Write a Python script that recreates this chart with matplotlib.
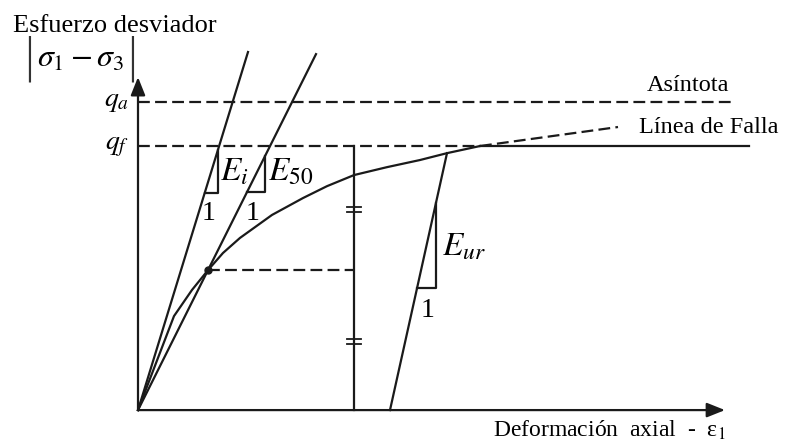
import matplotlib.pyplot as plt

plt.rcParams['font.family'] = ['Liberation Serif', 'DejaVu Serif']
plt.rcParams['mathtext.fontset'] = 'stix'
plt.rcParams['lines.scale_dashes'] = False

# Niveles de esfuerzo (normalizados con qf)
q_f = 1.0
q_a = 1.167
q_50 = 0.53

# Curva hiperbólica esfuerzo-deformación
eps_curve = [0.0, 0.36, 0.54, 0.70, 0.85, 1.02, 1.34, 1.65, 1.89, 2.16, 2.49, 2.82,
             3.09, 3.42]
q_curve = [0.0, 0.356, 0.455, 0.530, 0.595, 0.652, 0.739, 0.803, 0.848, 0.890, 0.920,
           0.947, 0.973, 1.0]

# Prolongación de la curva hacia la asíntota
eps_ext = [3.42, 4.80]
q_ext = [1.0, 1.072]

# Rectas de módulo: extremos (deformación, esfuerzo)
eps_Ei, q_Ei = [0.0, 1.10], [0.0, 1.356]
eps_E50, q_E50 = [0.0, 1.78], [0.0, 1.348]
eps_Eur, q_Eur = [2.52, 3.09], [0.0, 0.973]

# Triángulos de pendiente: (deformación inicial, deformación final)
tri_Ei = (0.667, 0.80)
tri_E50 = (1.09, 1.27)
tri_Eur = (2.79, 2.98)

# Deformación de la recta vertical y marcas de igualdad
eps_v = 2.16
q_marks = [0.26, 0.76]

eps_fail_end = 6.11
eps_asym_end = 5.96
eps_axis_end = 5.87
q_axis_end = 1.261

fig = plt.figure(figsize=(7.97, 4.46), dpi=100)
ax = fig.add_axes([0, 0, 1, 1])
ax.set_xlim(-1.38, 6.59)
ax.set_ylim(-0.136, 1.553)
ax.axis('off')

col = '#1a1a1a'
lw = 1.6
dash = (0, (8.5, 3.8))

# Ejes con flechas
arrow = dict(arrowstyle='-|>,head_length=0.55,head_width=0.22', mutation_scale=20,
             color=col, lw=lw, shrinkA=0, shrinkB=0)
ax.annotate('', xy=(0, q_axis_end), xytext=(0, 0), arrowprops=arrow)
ax.annotate('', xy=(eps_axis_end, 0), xytext=(0, 0), arrowprops=arrow)

# Asíntota y línea de falla
ax.plot([0, eps_asym_end], [q_a, q_a], color=col, lw=lw, ls=dash)
ax.plot([0, eps_curve[-1]], [q_f, q_f], color=col, lw=lw, ls=dash)
ax.plot([eps_curve[-1], eps_fail_end], [q_f, q_f], color=col, lw=lw)

# Curva y su prolongación
ax.plot(eps_curve, q_curve, color=col, lw=lw, solid_joinstyle='round')
ax.plot(eps_ext, q_ext, color=col, lw=lw, ls=dash)

# Rectas de módulo
ax.plot(eps_Ei, q_Ei, color=col, lw=lw)
ax.plot(eps_E50, q_E50, color=col, lw=lw)
ax.plot(eps_Eur, q_Eur, color=col, lw=lw)


def slope_triangle(e_line, q_line, tri):
    m = (q_line[1] - q_line[0]) / (e_line[1] - e_line[0])
    e1, e2 = tri
    y1 = q_line[0] + m * (e1 - e_line[0])
    y2 = q_line[0] + m * (e2 - e_line[0])
    ax.plot([e1, e2, e2], [y1, y1, y2], color=col, lw=lw)


slope_triangle(eps_Ei, q_Ei, tri_Ei)
slope_triangle(eps_E50, q_E50, tri_E50)
slope_triangle(eps_Eur, q_Eur, tri_Eur)

# Punto q50 y recta vertical con marcas
ax.plot([eps_curve[3], eps_v], [q_50, q_50], color=col, lw=lw, ls=dash)
ax.plot(eps_curve[3], q_50, 'o', color=col, ms=5)
ax.plot([eps_v, eps_v], [0, q_f], color=col, lw=lw)
for qm in q_marks:
    for d in (-0.009, 0.009):
        ax.plot([eps_v - 0.07, eps_v + 0.07], [qm + d, qm + d], color=col, lw=1.3)

# Textos
ax.text(-1.25, 1.432, 'Esfuerzo desviador', fontsize=19, ha='left', va='baseline')
ax.text(-0.575, 1.33, r'$\sigma_{\mathit{1}} - \sigma_{\mathit{3}}$',
        fontsize=23, ha='center', va='center')
for xb in (-1.09, -0.06):
    ax.text(xb, 1.33, '|', fontsize=34, ha='center', va='center',
            fontfamily='DejaVu Sans', fontweight='light', color='#333333')
ax.text(-0.09, q_a, r'$q_a$', fontsize=20, ha='right', va='center')
ax.text(-0.09, q_f, r'$q_f$', fontsize=20, ha='right', va='center')
ax.text(5.09, 1.208, 'Asíntota', fontsize=17.5, ha='left', va='baseline')
ax.text(5.01, 1.049, 'Línea de Falla', fontsize=17.5, ha='left', va='baseline')
ax.text(3.55, -0.102, r'Deformación  axial  -  ε$_1$', fontsize=17, ha='left',
        va='baseline')

ax.text(0.82, 0.902, r'$E_i$', fontsize=24, ha='left', va='center')
ax.text(1.30, 0.902, r'$E_{50}$', fontsize=24, ha='left', va='center')
ax.text(3.04, 0.617, r'$E_{ur}$', fontsize=24, ha='left', va='center')
ax.text(0.71, 0.746, '1', fontsize=20, ha='center', va='center')
ax.text(1.15, 0.746, '1', fontsize=20, ha='center', va='center')
ax.text(2.90, 0.379, '1', fontsize=20, ha='center', va='center')

fig.savefig('out.png', dpi=100)
